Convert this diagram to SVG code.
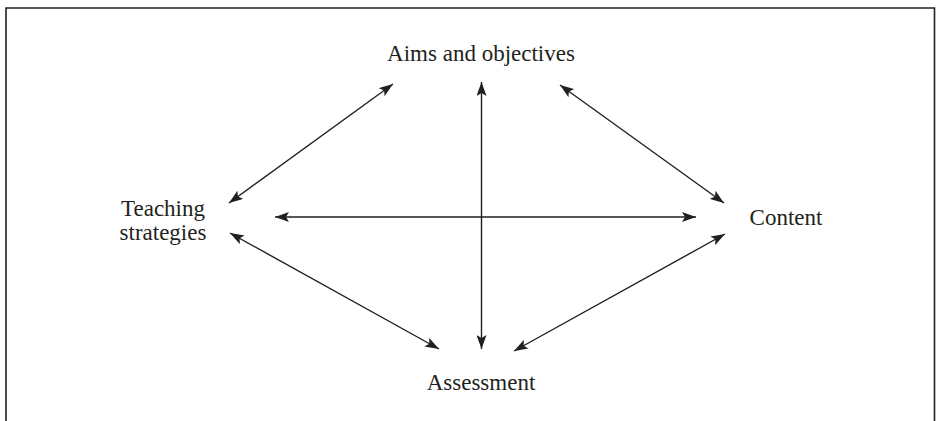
<svg xmlns="http://www.w3.org/2000/svg" width="936" height="421" viewBox="0 0 936 421">
<defs>
<style>
.lbl{font-family:"Liberation Serif","Times New Roman",serif;font-size:23px;fill:#231f20;text-anchor:middle}
.con{stroke:#231f20;stroke-width:1.4;fill:none;marker-start:url(#ah);marker-end:url(#ah)}
</style>
<marker id="ah" viewBox="0 0 14 10" refX="14" refY="5" markerWidth="14" markerHeight="10" markerUnits="userSpaceOnUse" orient="auto-start-reverse">
<path d="M0,0 L14,5 L0,10 L3,5 Z" fill="#231f20"/>
</marker>
</defs>
<rect width="936" height="421" fill="#fff"/>
<path d="M6,421 V8 H934.5 V421" fill="none" stroke="#231f20" stroke-width="1.6"/>
<g id="aims"><text class="lbl" x="481" y="61">Aims and objectives</text></g>
<g id="teaching"><text class="lbl" x="163" y="216">Teaching</text><text class="lbl" x="163" y="240">strategies</text></g>
<g id="content"><text class="lbl" x="786" y="225">Content</text></g>
<g id="assessment"><text class="lbl" x="481" y="390">Assessment</text></g>
<g id="connectors">
<line class="con" x1="229" y1="203" x2="393" y2="84"/>
<line class="con" x1="481.5" y1="82" x2="481.5" y2="349"/>
<line class="con" x1="275" y1="217" x2="696" y2="217"/>
<line class="con" x1="560" y1="85" x2="724" y2="203"/>
<line class="con" x1="230" y1="233" x2="439" y2="349"/>
<line class="con" x1="725" y1="234" x2="514" y2="351"/>
</g>
</svg>
